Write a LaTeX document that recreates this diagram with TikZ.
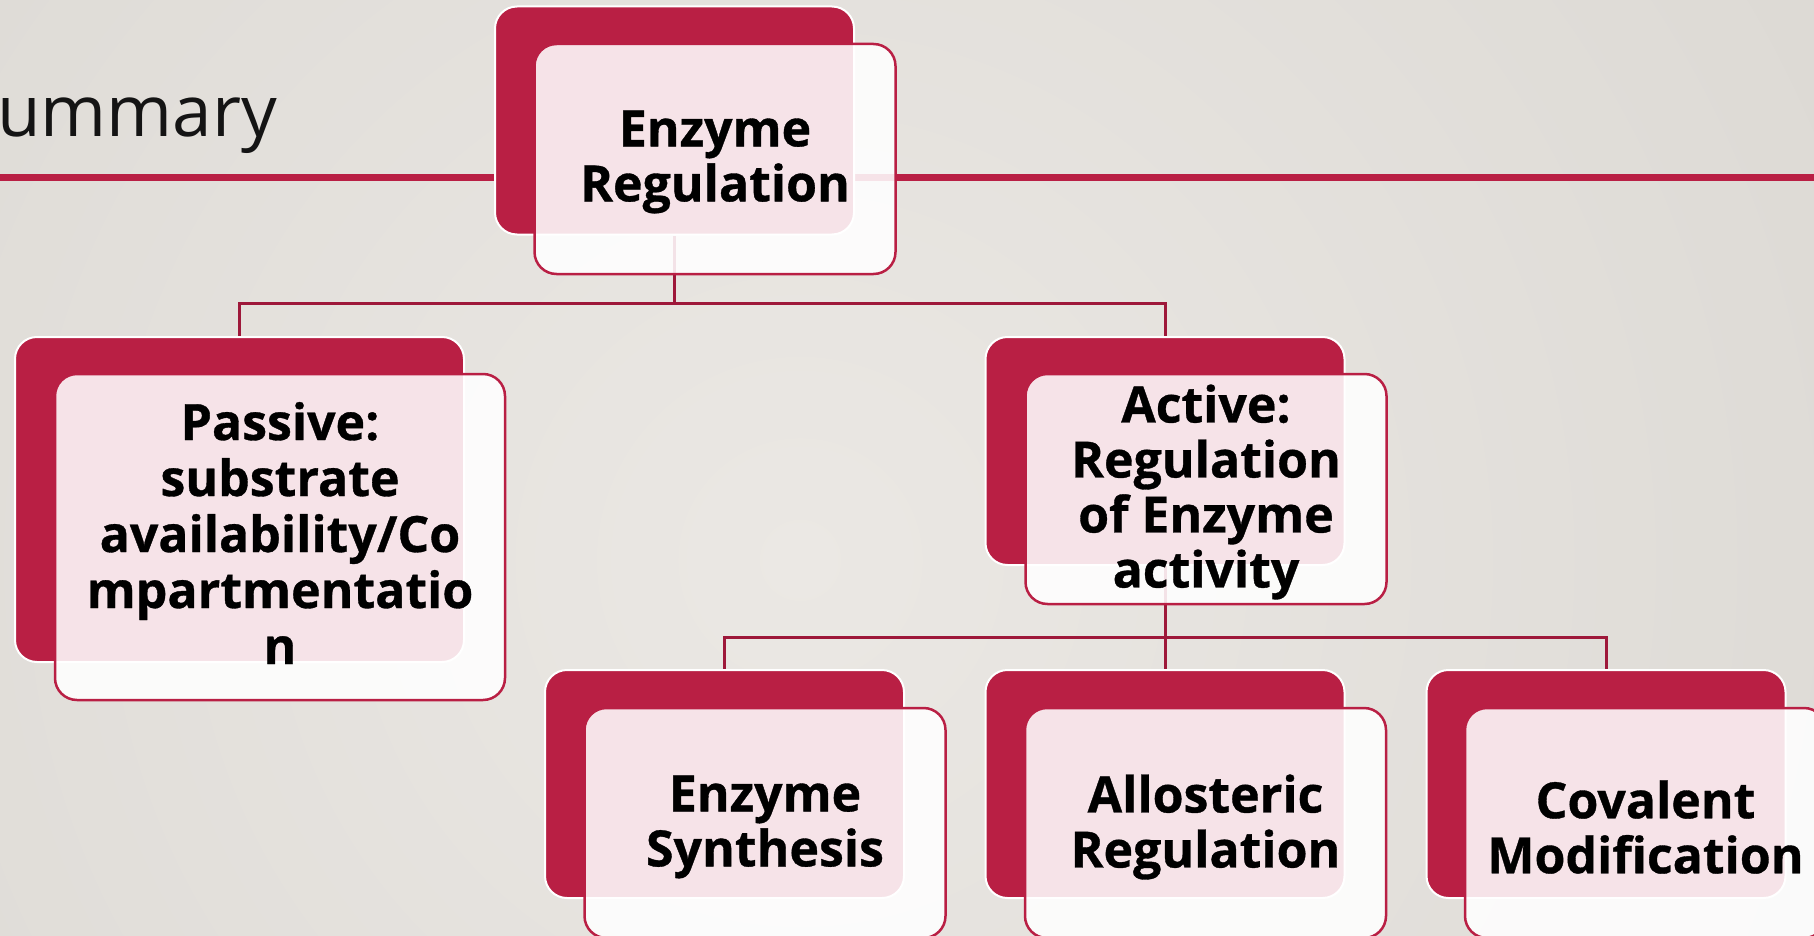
\documentclass[tikz,border=0pt]{standalone}
\usepackage{fontspec}
\setmainfont{Open Sans}[BoldFeatures={FakeBold=0.7}]
\definecolor{brand}{RGB}{185,31,68}
\definecolor{connc}{RGB}{158,24,58}
\definecolor{bgin}{RGB}{235,232,228}
\definecolor{bgout}{RGB}{208,205,199}
\definecolor{titlec}{RGB}{20,20,20}
\pgfdeclarelayer{bglayer}
\pgfdeclarelayer{connlayer}
\pgfsetlayers{bglayer,connlayer,main}
\begin{document}
\begin{tikzpicture}[x=1pt,y=-1pt,
  backbox/.style={draw=white, line width=2pt, fill=brand, rounded corners=22pt,
    minimum width=359pt, minimum height=228pt, inner sep=0pt},
  frontbox/.style={draw=brand, line width=2.5pt, fill=white, fill opacity=0.88,
    rounded corners=22pt, minimum width=361pt, minimum height=230pt, inner sep=0pt},
  boxtext/.style={align=center, font=\fontsize{50}{55}\selectfont\bfseries,
    text=black, inner sep=0pt},
  conn/.style={draw=connc, line width=3pt},
  rule/.style={draw=brand, line width=7pt},
]
\useasboundingbox (0,0) rectangle (1814,936);

% background and title rule
\begin{pgfonlayer}{bglayer}
  \begin{scope}
    \clip (0,0) rectangle (1814,936);
    \shade[inner color=bgin, outer color=bgout] (800,560) circle (2200);
  \end{scope}
  \coordinate (ruleL) at (0,178);
  \coordinate (ruleR) at (1814,178);
  \draw[rule] (ruleL) -- (ruleR);
\end{pgfonlayer}

% title
\node[font=\fontsize{71}{80}\selectfont, text=titlec, anchor=base west, inner sep=0pt]
  (title) at (-3,137) {ummary};

% top
\node[backbox] (topB) at (674.5,120.5) {};
\node[frontbox] (topF) at (715,159) {};
\node[boxtext, yshift=-3pt] (topT) at (topF) {Enzyme\\Regulation};

% passive
\node[backbox, minimum width=449pt, minimum height=325pt] (passB) at (239.5,499.5) {};
\node[frontbox, minimum width=450pt, minimum height=326pt] (passF) at (280,537) {};
\node[boxtext, font=\fontsize{50}{56}\selectfont\bfseries, yshift=4pt] (passT) at (passF)
  {Passive:\\substrate\\availability/Co\\mpartmentatio\\n};

% active
\node[backbox] (actB) at (1165,451) {};
\node[frontbox] (actF) at (1206,489) {};
\node[boxtext, yshift=-3pt] (actT) at (actF) {Active:\\Regulation\\of Enzyme\\activity};

% bottom row
\node[backbox] (synB) at (724.5,784) {};
\node[frontbox] (synF) at (765,823) {};
\node[boxtext, yshift=-4pt] (synT) at (synF) {Enzyme\\Synthesis};

\node[backbox] (alloB) at (1165,784) {};
\node[frontbox] (alloF) at (1205.5,823) {};
\node[boxtext, yshift=-4pt] (alloT) at (alloF) {Allosteric\\Regulation};

\node[backbox] (covB) at (1606,784) {};
\node[frontbox] (covF) at (1645.5,823) {};
\node[boxtext, yshift=-4pt] (covT) at (covF) {Covalent\\Modification};

% connectors
\begin{pgfonlayer}{connlayer}
  \coordinate (j1) at (674.5,303);
  \coordinate (j2) at (1165,637);
  \draw[conn] (topB.south) -- (j1);
  \draw[conn] (j1) -| (passB.north);
  \draw[conn] (j1) -| (actB.north);
  \draw[conn] (actB.south) -- (j2);
  \draw[conn] (j2) -| (synB.north);
  \draw[conn] (j2) -- (alloB.north);
  \draw[conn] (j2) -| (covB.north);
\end{pgfonlayer}
\end{tikzpicture}
\end{document}
